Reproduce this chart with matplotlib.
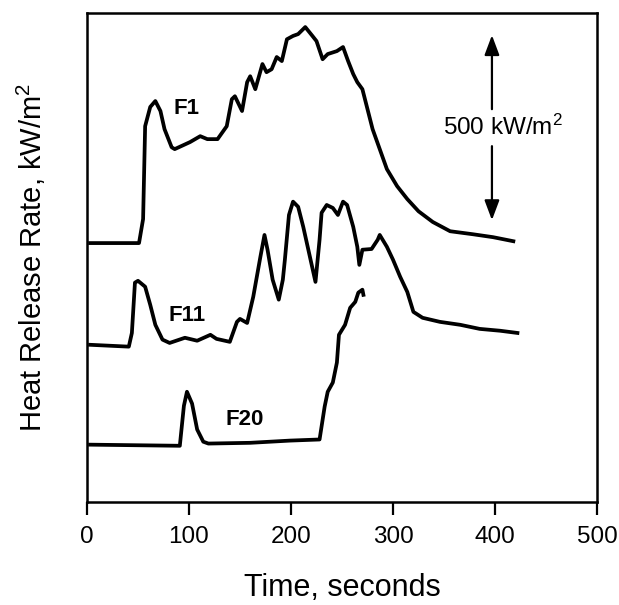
import matplotlib
matplotlib.use("Agg")
import matplotlib.pyplot as plt

plt.rcParams['font.family'] = ['Liberation Sans', 'DejaVu Sans']
plt.rcParams['mathtext.fontset'] = 'custom'
plt.rcParams['mathtext.rm'] = 'Liberation Sans'
plt.rcParams['mathtext.it'] = 'Liberation Sans'
plt.rcParams['mathtext.bf'] = 'Liberation Sans:bold'

# Heat release rate curves (kW/m2 above each curve's own baseline)
t_f1 = [3, 51, 55, 57, 62, 67, 72, 76, 83, 86, 101, 111, 118, 128, 137, 142, 145, 152,
        157, 160, 165, 172, 176, 181, 186, 191, 196, 202, 207, 214, 221, 225, 231, 236,
        245, 251, 256, 261, 265, 270, 275, 280, 287, 294, 304, 314, 325, 339, 356, 378,
        398, 418]
hrr_f1 = [0, 0, 65, 316, 368, 384, 357, 308, 259, 254, 273, 289, 281, 281, 316, 389, 397,
          357, 435, 451, 416, 484, 462, 470, 503, 492, 551, 560, 565, 584, 560, 546, 497,
          511, 519, 530, 492, 457, 435, 416, 362, 308, 254, 200, 154, 119, 86, 57, 32, 24,
          16, 5]

t_f11 = [3, 41, 44, 47, 50, 57, 62, 67, 74, 81, 96, 108, 121, 127, 140, 147, 150, 157,
         163, 170, 174, 177, 182, 188, 192, 194, 198, 202, 207, 212, 217, 224, 228, 230,
         235, 241, 246, 251, 255, 261, 265, 267, 270, 279, 285, 287, 294, 300, 307, 314,
         320, 329, 346, 366, 385, 405, 422]
hrr_f11 = [0, -5, 32, 168, 173, 157, 108, 54, 14, 5, 19, 11, 27, 16, 8, 62, 70, 59, 130,
           238, 297, 257, 176, 122, 176, 230, 351, 387, 373, 319, 257, 170, 284, 357, 378,
           370, 351, 387, 378, 319, 265, 216, 257, 259, 284, 297, 265, 230, 184, 143, 89,
           73, 62, 54, 43, 38, 32]

t_f20 = [3, 91, 95, 98, 103, 108, 114, 119, 160, 199, 228, 233, 236, 241, 245, 247, 253,
         258, 263, 266, 270, 271]
hrr_f20 = [0, -3, 105, 143, 111, 41, 8, 3, 5, 11, 14, 103, 143, 168, 222, 297, 324, 370,
           386, 411, 419, 405]

# vertical offsets used to stack the curves
offsets = {'F1': 700, 'F11': 425, 'F20': 155}
label_pos = {'F1': (98, 1065), 'F11': (98, 505), 'F20': (155, 224)}

scale_value = 500  # kW/m2 scale bar
scale_x = 397
scale_bottom = 762

fig = plt.figure(figsize=(6.19, 6.05), dpi=100)
ax = fig.add_axes([87 / 619, 1 - 502 / 605, 510 / 619, 489 / 605])

curves = {'F1': (t_f1, hrr_f1), 'F11': (t_f11, hrr_f11), 'F20': (t_f20, hrr_f20)}
for name, (t, h) in curves.items():
    off = offsets[name]
    ax.plot(t, [v + off for v in h], color='black', lw=2.7, solid_joinstyle='round')
    lx, ly = label_pos[name]
    ax.text(lx, ly, name, fontsize=16, fontweight='bold', ha='center', va='center')

# scale bar with text in the middle
mid = scale_bottom + scale_value / 2
gap = 50
arrow = dict(arrowstyle='-|>,head_length=1.2,head_width=0.45', color='black', lw=1.6,
             shrinkA=0, shrinkB=0)
ax.annotate('', xy=(scale_x, scale_bottom + scale_value), xytext=(scale_x, mid + gap),
            arrowprops=arrow)
ax.annotate('', xy=(scale_x, scale_bottom), xytext=(scale_x, mid - gap),
            arrowprops=arrow)
ax.text(408, mid, '500 kW/m$^2$', fontsize=17.5, ha='center', va='center')

ax.set_xlim(0, 500)
ax.set_ylim(0, 1322)
ax.set_xticks([0, 100, 200, 300, 400, 500])
ax.set_yticks([])
ax.tick_params(axis='x', direction='out', length=9, width=1.6, labelsize=17.5, pad=8)
for s in ax.spines.values():
    s.set_linewidth(1.8)

fig.text(31 / 619, 1 - 257 / 605, 'Heat Release Rate, kW/m$^2$', rotation=90,
         ha='center', va='center', fontsize=21)
fig.text(342 / 619, 1 - 588 / 605, 'Time, seconds', ha='center', va='center', fontsize=22)

fig.savefig('out.png', dpi=100)
